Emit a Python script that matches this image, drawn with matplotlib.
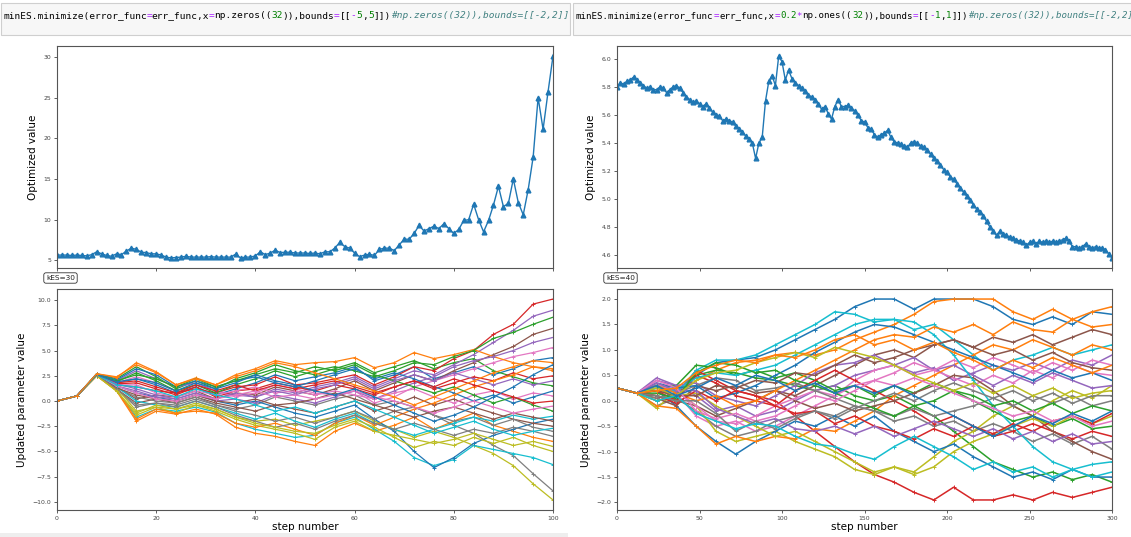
import matplotlib
matplotlib.use("Agg")
import matplotlib.pyplot as plt
from matplotlib.patches import Rectangle

# ---------------- data ----------------
left_top_steps = list(range(0, 101))
left_top_values = [
    5.65, 5.65, 5.65, 5.6, 5.65, 5.6, 5.55, 5.7, 6.05, 5.8,
    5.6, 5.5, 5.8, 5.7, 6.15, 6.5, 6.35, 6.0, 5.95, 5.8,
    5.8, 5.65, 5.4, 5.3, 5.35, 5.4, 5.5, 5.4, 5.4, 5.4,
    5.4, 5.45, 5.4, 5.4, 5.4, 5.4, 5.75, 5.3, 5.4, 5.4,
    5.55, 6.05, 5.7, 5.9, 6.25, 5.95, 6.0, 6.0, 5.9, 5.9,
    5.9, 5.85, 5.9, 5.8, 6.05, 6.05, 6.5, 7.2, 6.7, 6.5,
    5.9, 5.45, 5.65, 5.75, 5.6, 6.35, 6.5, 6.5, 6.2, 6.9,
    7.6, 7.6, 8.3, 9.3, 8.6, 8.9, 9.2, 8.9, 9.5, 8.9,
    8.3, 8.8, 9.9, 10.0, 11.9, 10.0, 8.5, 9.9, 11.8, 14.1,
    11.6, 12.0, 15.0, 12.1, 10.6, 13.7, 17.7, 25.0, 21.1, 25.7,
    30.1]

right_top_steps = list(range(0, 301, 2))
right_top_values = [
    5.80, 5.83, 5.82, 5.84, 5.85, 5.87, 5.85, 5.83, 5.81, 5.79, 5.80,
    5.78, 5.78, 5.80, 5.79, 5.76, 5.78, 5.80, 5.81, 5.79, 5.76,
    5.73, 5.71, 5.69, 5.70, 5.68, 5.66, 5.68, 5.65, 5.62, 5.60,
    5.59, 5.56, 5.57, 5.56, 5.55, 5.52, 5.50, 5.48, 5.45, 5.43,
    5.40, 5.29, 5.40, 5.44, 5.70, 5.84, 5.88, 5.81, 6.02, 5.98,
    5.85, 5.92, 5.86, 5.83, 5.81, 5.79, 5.77, 5.74, 5.73, 5.71,
    5.68, 5.64, 5.66, 5.61, 5.57, 5.66, 5.71, 5.66, 5.66, 5.67,
    5.65, 5.63, 5.60, 5.56, 5.55, 5.51, 5.50, 5.46, 5.44, 5.46,
    5.47, 5.49, 5.44, 5.41, 5.40, 5.39, 5.38, 5.37, 5.40, 5.41,
    5.40, 5.38, 5.37, 5.35, 5.32, 5.29, 5.27, 5.24, 5.21, 5.19,
    5.16, 5.14, 5.11, 5.08, 5.05, 5.02, 4.99, 4.96, 4.93, 4.91,
    4.88, 4.84, 4.80, 4.77, 4.74, 4.77, 4.75, 4.74, 4.73, 4.72,
    4.71, 4.70, 4.69, 4.67, 4.69, 4.70, 4.68, 4.70, 4.69, 4.70,
    4.69, 4.70, 4.69, 4.70, 4.71, 4.72, 4.70, 4.66, 4.66, 4.65,
    4.66, 4.68, 4.66, 4.65, 4.66, 4.65, 4.65, 4.64, 4.61, 4.58]

left_bottom_steps = list(range(0, 101, 4))
left_params = [
    [0.0, 0.5, 2.6, 1.8, 2.2, 1.6, 0.8, 1.4, 0.6, 1.2, 1.8, 2.6, 2.0, 2.4, 2.8, 3.4, 2.0, 2.6, 3.4, 2.2, 2.8, 3.4, 2.6, 3.2, 4.0, 4.3],
    [0.0, 0.5, 2.5, 1.0, -2.0, -1.0, -1.3, -0.8, -1.3, -2.6, -3.2, -3.5, -4.0, -4.4, -3.0, -2.2, -3.0, -2.4, -1.6, -2.8, -2.0, -1.2, -2.4, -3.0, -3.6, -4.0],
    [0.0, 0.5, 2.7, 2.2, 3.4, 2.4, 1.2, 2.0, 1.2, 2.2, 2.8, 3.6, 3.0, 2.6, 3.2, 3.8, 2.8, 3.4, 4.0, 3.2, 3.8, 4.2, 3.0, 2.4, 1.8, 1.5],
    [0.0, 0.5, 2.6, 1.6, 1.4, 1.0, 0.8, 1.2, 0.8, 1.4, 1.6, 2.4, 1.6, 1.8, 2.2, 2.6, 1.6, 2.4, 3.4, 3.0, 4.2, 5.0, 6.6, 7.6, 9.6, 10.1],
    [0.0, 0.5, 2.6, 2.0, 3.0, 2.2, 1.4, 1.8, 1.0, 0.6, 0.4, 1.2, 0.8, 1.4, 1.8, 2.4, 1.4, 2.2, 3.0, 2.6, 3.6, 4.6, 5.8, 7.0, 8.4, 9.0],
    [0.0, 0.5, 2.5, 1.4, 0.2, 0.6, 0.4, 1.0, 0.2, 0.8, 0.6, 1.4, 1.0, 0.6, 1.2, 2.0, 1.0, 1.8, 2.6, 2.0, 3.0, 3.8, 4.6, 5.4, 6.6, 7.2],
    [0.0, 0.5, 2.6, 1.8, 2.4, 1.8, 1.0, 1.6, 1.0, 0.4, 0.8, 1.6, 1.2, 0.8, 0.6, 1.0, -0.2, 0.4, 1.4, 2.0, 2.6, 3.2, 3.8, 4.4, 4.8, 5.3],
    [0.0, 0.5, 2.6, 1.2, -0.6, -0.2, -0.4, 0.2, -0.4, -0.8, -0.4, 0.4, 0.0, -0.4, 0.2, 0.6, -0.4, 0.0, -0.6, -1.4, -2.4, -3.2, -4.4, -5.4, -7.2, -8.9],
    [0.0, 0.5, 2.6, 1.3, -1.0, -0.6, -0.8, -0.2, -0.8, -1.6, -2.0, -1.8, -2.4, -2.0, -1.6, -1.0, -2.0, -2.8, -3.6, -3.0, -3.6, -4.4, -5.2, -6.4, -8.2, -9.8],
    [0.0, 0.5, 2.6, 1.1, -1.6, -0.8, -1.0, -0.6, -1.1, -2.2, -2.8, -3.2, -3.6, -3.4, -2.2, -1.6, -2.8, -4.0, -5.6, -6.4, -5.8, -4.4, -4.8, -5.2, -5.6, -6.3],
    [0.0, 0.5, 2.6, 1.5, 0.8, 0.4, 0.0, 0.6, 0.0, -0.4, 0.0, -0.6, -1.2, -1.6, -1.0, -0.4, -1.8, -3.0, -5.0, -6.6, -5.6, -4.2, -3.4, -2.8, -2.2, -1.8],
    [0.0, 0.5, 2.7, 2.3, 3.8, 2.9, 1.6, 2.3, 1.6, 2.6, 3.2, 4.0, 3.6, 3.8, 3.9, 4.3, 3.3, 3.8, 4.8, 4.2, 4.6, 5.1, 4.4, 3.8, 3.4, 3.2],
    [0.0, 0.5, 2.6, 1.9, 2.8, 2.0, 1.0, 1.6, 0.8, 1.6, 2.2, 3.0, 2.4, 3.0, 3.4, 3.0, 2.4, 3.0, 3.8, 3.6, 4.4, 5.0, 6.2, 6.8, 7.6, 8.3],
    [0.0, 0.5, 2.6, 1.7, 1.8, 1.2, 0.6, 1.4, 0.4, 1.0, 1.2, 1.8, 1.4, 1.0, 1.6, 1.2, 0.6, 1.4, 2.0, 1.2, 1.8, 2.4, 2.0, 2.8, 2.2, 2.5],
    [0.0, 0.5, 2.6, 1.5, 1.0, 0.4, 0.2, 0.8, 0.0, 0.2, -0.2, 0.6, 0.2, -0.2, 0.4, 1.0, 0.2, 1.0, 1.8, 2.4, 3.4, 4.0, 4.4, 5.0, 5.8, 6.3],
    [0.0, 0.5, 2.6, 1.2, -0.2, 0.2, -0.2, 0.4, -0.2, -0.6, -1.0, -0.4, -0.8, -1.2, -0.6, 0.0, -1.0, -0.4, 0.4, -0.4, 0.2, -0.6, -1.2, -1.8, -2.2, -2.5],
    [0.0, 0.5, 2.6, 1.6, 1.6, 0.8, 0.4, 1.0, 0.6, 1.0, 1.4, 0.8, 1.0, 0.6, 1.0, 0.6, 0.2, 0.8, 1.2, 0.4, -0.2, 0.6, 1.0, 0.2, 0.8, 0.5],
    [0.0, 0.5, 2.6, 1.3, 0.4, 0.0, -0.2, 0.4, -0.4, -1.0, -1.4, -2.0, -1.6, -2.2, -1.6, -1.0, -1.8, -1.0, -0.6, -1.4, -2.0, -1.6, -2.4, -1.8, -2.6, -3.0],
    [0.0, 0.5, 2.5, 1.0, -1.4, -0.6, -1.2, -0.4, -1.0, -1.8, -2.4, -2.8, -3.2, -3.8, -2.6, -2.0, -3.0, -3.4, -3.8, -4.2, -3.8, -3.2, -3.8, -4.4, -4.0, -4.5],
    [0.0, 0.5, 2.6, 1.4, 0.0, -0.4, -0.6, 0.0, -0.6, -1.2, -1.8, -1.2, -2.0, -2.6, -1.8, -1.2, -2.2, -2.8, -3.4, -2.8, -2.2, -1.6, -2.0, -1.4, -1.8, -1.5],
    [0.0, 0.5, 2.7, 2.1, 3.2, 2.6, 1.4, 2.0, 1.4, 2.0, 2.4, 1.8, 1.4, 2.0, 2.6, 3.2, 2.2, 2.8, 2.2, 1.4, 0.8, 0.0, 0.6, -0.2, 0.4, 1.0],
    [0.0, 0.5, 2.5, 1.1, -1.8, -0.8, -1.2, -1.0, -1.2, -2.2, -2.6, -2.2, -2.8, -3.4, -2.2, -1.4, -2.4, -1.6, -0.8, -0.2, 0.6, 1.4, 2.0, 2.6, 3.4, 3.0],
    [0.0, 0.5, 2.6, 2.0, 2.6, 2.2, 1.4, 2.2, 1.4, 2.0, 2.6, 3.2, 2.8, 3.4, 3.0, 3.6, 2.6, 2.0, 1.4, 0.8, 1.4, 0.6, -0.2, 0.4, -0.4, -1.0],
    [0.0, 0.5, 2.6, 1.8, 2.0, 1.4, 0.8, 1.6, 1.0, 1.6, 1.0, 1.6, 1.2, 1.6, 2.0, 1.4, 0.8, 1.4, 2.0, 1.4, 2.2, 1.6, 1.0, 0.4, -0.2, 0.0],
    [0.0, 0.5, 2.6, 1.7, 1.2, 0.6, 0.2, 0.8, 0.2, 0.8, 0.4, 1.0, 0.6, 1.2, 1.6, 2.2, 1.2, 2.0, 2.6, 2.0, 2.8, 2.2, 1.6, 2.2, 1.6, 2.0],
    [0.0, 0.5, 2.6, 1.3, 0.6, 0.2, 0.0, 0.6, 0.0, -0.2, 0.2, -0.4, -0.2, 0.2, 0.8, 0.2, -0.4, -1.0, -1.6, -1.0, -0.6, -1.2, -1.8, -1.2, -1.6, -2.0],
    [0.0, 0.5, 2.6, 1.5, 0.8, 0.2, 0.0, 0.6, 0.2, 0.6, 1.0, 0.4, 0.6, 0.2, 0.6, 1.0, 0.4, 0.0, -0.6, -1.2, -0.6, 0.0, -0.6, -1.2, -0.8, -0.5],
    [0.0, 0.5, 2.6, 1.2, -0.4, -0.2, -0.6, 0.0, -0.6, -1.4, -2.0, -2.6, -2.2, -2.8, -2.0, -1.4, -2.2, -2.8, -2.2, -2.8, -3.4, -2.8, -3.2, -2.6, -3.0, -3.5],
    [0.0, 0.5, 2.5, 1.0, -1.2, -0.4, -0.8, -0.4, -0.8, -1.6, -2.2, -2.6, -3.0, -3.2, -2.4, -1.8, -2.6, -3.6, -4.6, -4.0, -4.4, -3.6, -4.2, -3.6, -4.4, -5.0],
    [0.0, 0.5, 2.6, 1.6, 1.4, 1.0, 0.4, 1.2, 0.6, 0.2, -0.4, -1.0, -0.6, -1.2, -0.6, 0.0, -0.8, -1.6, -2.4, -3.2, -2.6, -2.0, -2.8, -3.4, -3.0, -2.7],
    [0.0, 0.5, 2.6, 1.9, 2.2, 1.8, 1.0, 1.8, 1.2, 1.8, 2.6, 2.0, 1.6, 1.0, 0.6, 1.2, 0.4, -0.4, -1.2, -2.0, -1.4, -0.6, 0.4, 1.4, 2.6, 3.6],
    [0.0, 0.5, 2.7, 2.4, 3.6, 2.8, 1.6, 2.2, 1.6, 2.4, 3.0, 3.8, 3.4, 2.8, 2.2, 1.6, 1.0, 0.4, -0.4, 0.4, 1.2, 2.0, 2.8, 3.4, 4.0, 3.8],
]

right_bottom_steps = list(range(0, 301, 12))
right_params = [
    [0.25, 0.15, 0.3, 0.2, 0.5, 0.75, 0.8, 0.85, 1.0, 1.2, 1.4, 1.6, 1.85, 2.0, 2.0, 1.8, 2.0, 2.0, 2.0, 1.85, 1.6, 1.5, 1.65, 1.5, 1.75, 1.7],
    [0.25, 0.15, 0.2, 0.1, 0.4, 0.6, 0.75, 0.8, 0.9, 0.95, 0.9, 1.0, 1.2, 1.35, 1.5, 1.7, 1.95, 2.0, 2.0, 2.0, 1.75, 1.6, 1.8, 1.6, 1.75, 1.85],
    [0.25, 0.15, 0.1, 0.0, 0.5, 0.6, 0.55, 0.45, 0.4, 0.3, 0.2, 0.3, 0.1, 0.0, 0.1, -0.1, -0.3, -0.6, -0.9, -1.2, -1.35, -1.5, -1.4, -1.55, -1.45, -1.6],
    [0.25, 0.15, 0.0, 0.1, 0.6, 0.4, 0.2, 0.1, 0.0, -0.3, -0.6, -0.9, -1.2, -1.45, -1.6, -1.8, -1.95, -1.7, -1.95, -1.95, -1.85, -1.95, -1.8, -1.9, -1.8, -1.7],
    [0.25, 0.15, 0.4, 0.3, 0.1, -0.2, -0.1, -0.3, -0.2, 0.0, 0.2, 0.3, 0.5, 0.6, 0.7, 0.55, 0.65, 0.4, 0.55, 0.7, 0.6, 0.75, 0.6, 0.8, 0.7, 0.9],
    [0.25, 0.15, 0.3, 0.0, -0.1, -0.3, -0.15, 0.0, 0.2, 0.1, 0.3, 0.5, 0.7, 0.9, 1.0, 0.85, 1.1, 1.2, 1.05, 1.25, 1.15, 1.3, 1.1, 1.25, 1.4, 1.3],
    [0.25, 0.15, 0.35, 0.15, -0.3, -0.5, -0.4, -0.6, -0.5, -0.3, -0.1, 0.1, 0.4, 0.6, 0.7, 0.5, 0.6, 0.45, 0.3, 0.5, 0.35, 0.6, 0.45, 0.7, 0.55, 0.5],
    [0.25, 0.15, -0.1, 0.05, -0.2, -0.5, -0.7, -0.6, -0.4, -0.3, -0.2, -0.3, -0.1, -0.2, -0.4, -0.3, -0.5, -0.4, -0.6, -0.45, -0.6, -0.8, -0.65, -0.85, -0.7, -0.95],
    [0.25, 0.15, -0.15, 0.2, -0.1, -0.6, -0.8, -0.7, -0.6, -0.8, -0.95, -1.1, -1.35, -1.45, -1.3, -1.4, -1.1, -0.8, -0.6, -0.3, -0.1, -0.3, 0.0, 0.2, 0.05, 0.3],
    [0.25, 0.15, 0.3, 0.15, 0.6, 0.8, 0.8, 0.9, 1.1, 1.3, 1.5, 1.75, 1.7, 1.55, 1.6, 1.4, 1.5, 1.2, 0.9, 0.6, 0.8, 0.9, 1.05, 0.9, 1.0, 1.1],
    [0.25, 0.15, 0.2, -0.1, -0.5, -0.8, -1.05, -0.8, -0.6, -0.4, -0.5, -0.3, -0.5, -0.3, -0.6, -0.8, -1.0, -0.85, -1.1, -1.3, -1.5, -1.4, -1.55, -1.35, -1.5, -1.5],
    [0.25, 0.15, -0.1, -0.15, -0.5, -0.85, -0.7, -0.8, -0.7, -0.75, -0.55, -0.6, -0.4, -0.2, 0.1, 0.3, 0.5, 0.7, 0.9, 1.1, 1.0, 1.2, 1.05, 0.9, 1.1, 1.0],
    [0.25, 0.15, 0.25, 0.3, 0.7, 0.65, 0.5, 0.6, 0.45, 0.55, 0.4, 0.2, 0.3, 0.1, 0.3, 0.15, 0.35, 0.2, 0.0, -0.2, -0.4, -0.3, -0.5, -0.35, -0.55, -0.5],
    [0.25, 0.15, 0.2, 0.0, 0.5, 0.35, 0.1, 0.0, -0.1, 0.2, 0.4, 0.6, 0.4, 0.2, 0.0, -0.2, -0.45, -0.3, -0.5, -0.7, -0.6, -0.45, -0.6, -0.75, -0.6, -0.7],
    [0.25, 0.15, 0.45, 0.3, 0.35, 0.1, 0.0, -0.1, 0.1, 0.3, 0.55, 0.7, 0.75, 0.9, 0.7, 0.85, 0.6, 0.7, 0.5, 0.3, 0.5, 0.35, 0.55, 0.4, 0.25, 0.3],
    [0.25, 0.15, 0.05, -0.1, 0.3, 0.2, 0.3, 0.15, 0.2, 0.0, -0.15, -0.05, -0.2, -0.1, 0.0, 0.15, 0.3, 0.5, 0.45, 0.2, -0.1, -0.3, -0.6, -0.8, -1.0, -1.15],
    [0.25, 0.15, 0.3, 0.2, -0.1, -0.4, -0.45, -0.3, -0.1, 0.05, 0.2, 0.1, 0.3, 0.4, 0.55, 0.75, 0.6, 0.8, 0.65, 0.85, 0.7, 0.55, 0.75, 0.6, 0.8, 0.7],
    [0.25, 0.15, 0.05, 0.15, 0.3, 0.45, 0.4, 0.2, 0.25, 0.35, 0.2, 0.05, -0.1, -0.2, -0.3, -0.15, -0.3, -0.2, -0.1, 0.05, -0.1, 0.1, -0.05, 0.1, -0.1, 0.0],
    [0.25, 0.15, 0.0, 0.1, 0.15, -0.1, -0.3, -0.5, -0.7, -0.6, -0.8, -1.0, -1.2, -1.4, -1.3, -1.45, -1.3, -1.0, -0.8, -0.65, -0.5, -0.35, -0.5, -0.3, -0.45, -0.3],
    [0.25, 0.15, 0.25, 0.2, 0.45, 0.55, 0.5, 0.6, 0.7, 0.9, 1.1, 1.3, 1.5, 1.6, 1.6, 1.55, 1.3, 0.9, 0.4, -0.1, -0.5, -0.9, -1.2, -1.35, -1.5, -1.4],
    [0.25, 0.15, 0.35, 0.25, 0.3, 0.05, 0.15, 0.3, 0.5, 0.7, 0.95, 1.15, 1.35, 1.5, 1.45, 1.3, 1.15, 1.0, 0.85, 0.7, 0.55, 0.4, 0.6, 0.45, 0.55, 0.4],
    [0.25, 0.15, 0.3, 0.15, 0.0, 0.1, -0.1, 0.0, 0.2, 0.4, 0.6, 0.8, 1.0, 1.2, 1.3, 1.25, 1.45, 1.35, 1.5, 1.3, 1.55, 1.4, 1.35, 1.6, 1.45, 1.5],
    [0.25, 0.15, 0.15, 0.05, 0.55, 0.75, 0.7, 0.55, 0.6, 0.4, 0.3, 0.15, 0.0, -0.15, -0.3, -0.1, 0.0, 0.2, 0.1, -0.1, 0.0, -0.2, -0.05, -0.25, -0.1, -0.2],
    [0.25, 0.15, 0.1, -0.05, 0.2, 0.0, 0.2, 0.1, -0.1, -0.25, -0.2, -0.45, -0.3, -0.5, -0.6, -0.75, -0.55, -0.7, -0.5, -0.65, -0.45, -0.6, -0.4, -0.3, -0.45, -0.25],
    [0.25, 0.15, 0.35, 0.2, 0.2, -0.15, -0.3, -0.45, -0.35, -0.55, -0.6, -0.5, -0.65, -0.5, -0.7, -0.55, -0.4, -0.55, -0.7, -0.55, -0.75, -0.6, -0.8, -0.65, -0.85, -0.8],
    [0.25, 0.15, 0.2, 0.1, 0.1, 0.3, 0.25, 0.4, 0.35, 0.55, 0.5, 0.7, 0.9, 0.75, 0.85, 1.0, 1.1, 1.2, 1.05, 0.9, 1.0, 0.8, 0.95, 0.75, 0.65, 0.6],
    [0.25, 0.15, 0.4, 0.25, -0.2, -0.35, -0.25, -0.4, -0.3, -0.1, 0.1, 0.0, 0.2, 0.4, 0.3, 0.45, 0.3, 0.15, 0.0, -0.15, -0.3, -0.2, -0.4, -0.3, -0.5, -0.4],
    [0.25, 0.15, 0.1, 0.0, 0.0, -0.25, -0.6, -0.4, -0.55, -0.35, -0.2, -0.35, -0.15, 0.0, 0.15, 0.0, 0.2, 0.35, 0.2, 0.05, 0.2, 0.0, 0.15, -0.05, 0.1, 0.1],
    [0.25, 0.15, 0.25, 0.1, 0.4, 0.55, 0.6, 0.75, 0.85, 0.95, 0.85, 1.05, 0.95, 0.85, 0.7, 0.5, 0.35, 0.2, 0.35, 0.15, 0.3, 0.1, 0.25, 0.05, 0.15, 0.2],
    [0.25, 0.15, 0.0, 0.1, -0.25, -0.4, -0.55, -0.45, -0.5, -0.7, -0.85, -0.9, -1.05, -1.15, -0.9, -0.7, -0.9, -1.1, -1.35, -1.2, -1.4, -1.3, -1.5, -1.35, -1.25, -1.2],
    [0.25, 0.15, 0.3, 0.1, 0.25, 0.45, 0.3, 0.5, 0.4, 0.2, 0.35, 0.15, 0.3, 0.15, 0.3, 0.1, -0.1, -0.3, -0.5, -0.7, -0.5, -0.3, -0.45, -0.25, -0.4, -0.2],
    [0.25, 0.15, 0.2, 0.25, 0.55, 0.7, 0.8, 0.75, 0.9, 0.85, 1.0, 1.2, 1.3, 1.1, 1.2, 1.0, 1.15, 0.95, 0.8, 0.6, 0.8, 0.65, 0.85, 0.7, 0.55, 0.7],
]

left_code = [("minES.minimize(error_func", "k"), ("=", "o"), ("err_func,x", "k"), ("=", "o"),
             ("np.zeros((", "k"), ("32", "n"), (")),bounds", "k"), ("=", "o"), ("[[", "k"),
             ("-", "o"), ("5", "n"), (",", "k"), ("5", "n"), ("]])", "k"),
             ("#np.zeros((32)),bounds=[[-2,2]]", "c")]
right_code = [("minES.minimize(error_func", "k"), ("=", "o"), ("err_func,x", "k"), ("=", "o"),
              ("0.2", "n"), ("*", "o"), ("np.ones((", "k"), ("32", "n"), (")),bounds", "k"),
              ("=", "o"), ("[[", "k"), ("-", "o"), ("1", "n"), (",", "k"), ("1", "n"), ("]])", "k"),
              ("#np.zeros((32)),bounds=[[-2,2]]", "c")]
kes_labels = ["kES=30", "kES=40"]

# ---------------- figure ----------------
W, H = 1131, 537
fig = plt.figure(figsize=(W / 100, H / 100), dpi=100)
fig.patch.set_facecolor("white")

def fx(px):
    return px / W

def fy(py):
    return 1 - py / H

# code cells
code_colors = {"k": "#000000", "o": "#aa22ff", "n": "#008000", "c": "#408080"}
for (x0, x1, segs, tx, fs) in [(1, 570, left_code, 4, 6.8), (573, 1140, right_code, 576, 6.6)]:
    fig.patches.append(Rectangle((fx(x0), fy(35)), fx(x1 - x0), 32 / H, transform=fig.transFigure,
                                 facecolor="#f7f7f7", edgecolor="#cfcfcf", linewidth=0.8, zorder=0))
    cw = 0.602 * fs * 100 / 72
    pos = tx
    for s, c in segs:
        fig.text(fx(pos), fy(16), s, fontsize=fs, family="DejaVu Sans Mono", color=code_colors[c],
                 style="italic" if c == "c" else "normal", va="center", ha="left")
        pos += cw * len(s)

# bottom light strip
fig.patches.append(Rectangle((0, 0), fx(568), 4 / H, transform=fig.transFigure,
                             facecolor="#eeeeee", edgecolor="none", zorder=0))

tick_fs = 4.4
label_fs = 7.5
colors = plt.rcParams["axes.prop_cycle"].by_key()["color"]

def style_axes(ax):
    for sp in ax.spines.values():
        sp.set_linewidth(0.8)
        sp.set_color("#555555")
    ax.tick_params(labelsize=tick_fs, length=2.2, width=0.6, colors="#444444", pad=2)

panels = [
    (57, 553, left_top_steps, left_top_values, left_bottom_steps, left_params, 100, kes_labels[0], 60.5, 0.9),
    (617, 1112, right_top_steps, right_top_values, right_bottom_steps, right_params, 300, kes_labels[1], 620.5, 1.1),
]
for (x0, x1, tsteps, tvals, bsteps, bparams, xmax, kes, kx, blw) in panels:
    ax_t = fig.add_axes([fx(x0), fy(268), fx(x1 - x0), (268 - 46) / H])
    ax_b = fig.add_axes([fx(x0), fy(510), fx(x1 - x0), (510 - 289) / H], sharex=ax_t)
    ax_t.plot(tsteps, tvals, color=colors[0], marker="^", markersize=3.4, linewidth=1.0)
    for i, vals in enumerate(bparams):
        ax_b.plot(bsteps, vals, color=colors[i % 10], marker="+", markersize=3.2,
                  markeredgewidth=0.7, linewidth=blw)
    ax_t.set_xlim(0, xmax)
    ax_t.set_ylabel("Optimized value", fontsize=label_fs)
    ax_b.set_ylabel("Updated parameter value", fontsize=label_fs)
    ax_b.set_xlabel("step number", fontsize=label_fs, labelpad=1)
    plt.setp(ax_t.get_xticklabels(), visible=False)
    style_axes(ax_t)
    style_axes(ax_b)
    fig.text(fx(kx), fy(278), kes, fontsize=5.3, ha="center", va="center", color="#222222",
             bbox=dict(boxstyle="round,pad=0.3", facecolor="white", edgecolor="#333333", linewidth=0.6))

fig.savefig("out.png", dpi=100)
